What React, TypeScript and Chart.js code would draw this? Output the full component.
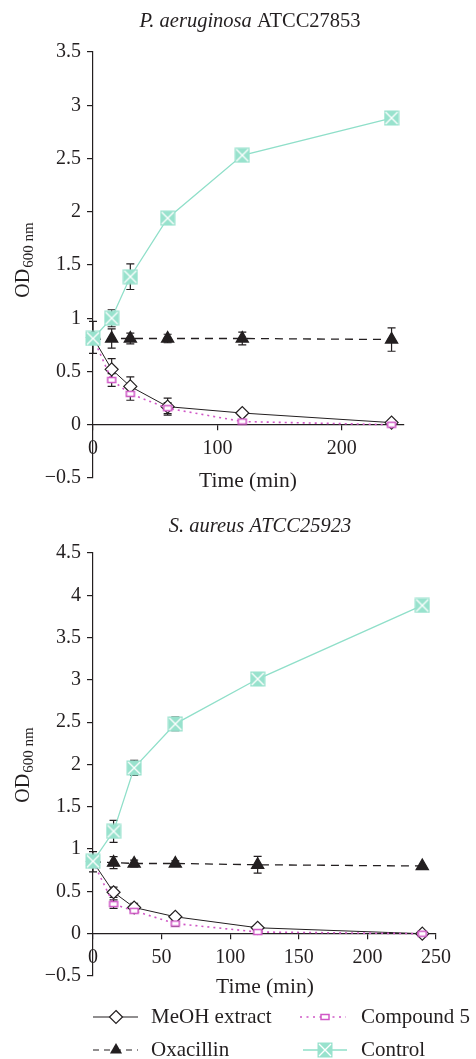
import React, { useEffect, useRef } from 'react';
import { Chart, registerables } from 'chart.js';

Chart.register(...registerables);

// ---------- data ----------
const times = [0, 15, 30, 60, 120, 240];

const paMeOH = [0.82, 0.52, 0.36, 0.17, 0.11, 0.02];
const paMeOHErr = [0.15, 0.1, 0.09, 0.08, 0, 0];
const paCompound = [0.82, 0.42, 0.29, 0.155, 0.03, 0.0];
const paCompoundErr = [0, 0.06, 0.06, 0.05, 0, 0];
const paOxacillin = [0.8, 0.81, 0.81, 0.81, 0.81, 0.8];
const paOxacillinErr = [0, 0.09, 0.05, 0.04, 0.06, 0.11];
const paControl = [0.81, 1.0, 1.39, 1.94, 2.53, 2.88];
const paControlErr = [0, 0.08, 0.12, 0, 0, 0];

const saMeOH = [0.85, 0.49, 0.31, 0.2, 0.07, 0.0];
const saMeOHErr = [0.12, 0.06, 0.05, 0.03, 0, 0];
const saCompound = [0.85, 0.35, 0.27, 0.12, 0.02, 0.0];
const saCompoundErr = [0, 0.05, 0, 0.03, 0, 0];
const saOxacillin = [0.85, 0.84, 0.83, 0.83, 0.815, 0.8];
const saOxacillinErr = [0, 0.07, 0.04, 0.03, 0.1, 0];
const saControl = [0.855, 1.21, 1.96, 2.48, 3.01, 3.88];
const saControlErr = [0, 0.13, 0.09, 0.08, 0, 0];

const paXTicks = [0, 100, 200];
const saXTicks = [0, 50, 100, 150, 200, 250];

const seriesNames = ['MeOH extract', 'Compound 5', 'Oxacillin', 'Control'];

// ---------- style ----------
const FONT = '"Liberation Serif", "DejaVu Serif", serif';
const INK = '#231f20';
const TEAL_FILL = '#98e2cd';
const TEAL_LINE = '#8fdfc9';
const MAGENTA = '#d057c6';

function drawControlMarker(ctx: CanvasRenderingContext2D, x: number, y: number, s = 15) {
  ctx.save();
  ctx.fillStyle = TEAL_FILL;
  ctx.fillRect(x - s / 2, y - s / 2, s, s);
  ctx.strokeStyle = '#ffffff';
  ctx.lineWidth = 1.4;
  const d = s / 2 - 1.5;
  ctx.beginPath();
  ctx.moveTo(x - d, y - d);
  ctx.lineTo(x + d, y + d);
  ctx.moveTo(x + d, y - d);
  ctx.lineTo(x - d, y + d);
  ctx.stroke();
  ctx.restore();
}

function drawCompoundMarker(ctx: CanvasRenderingContext2D, x: number, y: number) {
  ctx.save();
  ctx.fillStyle = '#ffffff';
  ctx.strokeStyle = MAGENTA;
  ctx.lineWidth = 1.5;
  ctx.fillRect(x - 4, y - 2.5, 8, 5);
  ctx.strokeRect(x - 4, y - 2.5, 8, 5);
  ctx.restore();
}

function drawDiamond(ctx: CanvasRenderingContext2D, x: number, y: number, r = 6.5) {
  ctx.save();
  ctx.fillStyle = '#ffffff';
  ctx.strokeStyle = INK;
  ctx.lineWidth = 1.2;
  ctx.beginPath();
  ctx.moveTo(x, y - r);
  ctx.lineTo(x + r, y);
  ctx.lineTo(x, y + r);
  ctx.lineTo(x - r, y);
  ctx.closePath();
  ctx.fill();
  ctx.stroke();
  ctx.restore();
}

function drawTriangle(ctx: CanvasRenderingContext2D, x: number, y: number, r = 7) {
  ctx.save();
  ctx.fillStyle = INK;
  ctx.beginPath();
  ctx.moveTo(x, y - r);
  ctx.lineTo(x + r * 0.866, y + r * 0.5);
  ctx.lineTo(x - r * 0.866, y + r * 0.5);
  ctx.closePath();
  ctx.fill();
  ctx.restore();
}

function makeImage(w: number, h: number, draw: (c: CanvasRenderingContext2D, x: number, y: number) => void) {
  const c = document.createElement('canvas');
  c.width = w;
  c.height = h;
  const cx = c.getContext('2d') as CanvasRenderingContext2D;
  draw(cx, w / 2, h / 2);
  return c;
}

type Seg = { text: string; italic: boolean };

function drawSegments(ctx: CanvasRenderingContext2D, segs: Seg[], cx: number, cy: number, size: number) {
  ctx.save();
  ctx.textBaseline = 'middle';
  ctx.textAlign = 'left';
  ctx.fillStyle = INK;
  let total = 0;
  const widths = segs.map((s) => {
    ctx.font = `${s.italic ? 'italic ' : ''}${size}px ${FONT}`;
    const w = ctx.measureText(s.text).width;
    total += w;
    return w;
  });
  let x = cx - total / 2;
  segs.forEach((s, i) => {
    ctx.font = `${s.italic ? 'italic ' : ''}${size}px ${FONT}`;
    ctx.fillText(s.text, x, cy);
    x += widths[i];
  });
  ctx.restore();
}

function drawYTitle(ctx: CanvasRenderingContext2D, cx: number, cy: number) {
  ctx.save();
  ctx.translate(cx, cy);
  ctx.rotate(-Math.PI / 2);
  ctx.fillStyle = INK;
  ctx.textBaseline = 'alphabetic';
  ctx.textAlign = 'left';
  ctx.font = `20px ${FONT}`;
  const w1 = ctx.measureText('OD').width;
  ctx.font = `15px ${FONT}`;
  const w2 = ctx.measureText('600 nm').width;
  const start = -(w1 + w2 + 1) / 2;
  ctx.font = `20px ${FONT}`;
  ctx.fillText('OD', start, 7);
  ctx.font = `15px ${FONT}`;
  ctx.fillText('600 nm', start + w1 + 1, 11);
  ctx.restore();
}

function fmtY(v: number) {
  const s = String(Math.round(v * 10) / 10);
  return s.replace('-', '\u2212');
}

function buildChart(
  canvas: HTMLCanvasElement,
  opts: {
    meoh: number[]; meohErr: number[];
    comp: number[]; compErr: number[];
    oxa: number[]; oxaErr: number[];
    ctrl: number[]; ctrlErr: number[];
    yMax: number; xTicks: number[];
    padding: { top: number; right: number; bottom: number; left: number };
    drawText: (ctx: CanvasRenderingContext2D) => void;
    imgs: { ctrl: HTMLCanvasElement; comp: HTMLCanvasElement };
  }
) {
  const toXY = (arr: number[]) => arr.map((v, i) => ({ x: times[i], y: v }));

  const errorBarPlugin = {
    id: 'errorBars',
    beforeDatasetsDraw(chart: any) {
      const ctx = chart.ctx as CanvasRenderingContext2D;
      const xs = chart.scales.x;
      const ys = chart.scales.y;
      ctx.save();
      ctx.strokeStyle = INK;
      ctx.lineWidth = 1.2;
      chart.data.datasets.forEach((ds: any) => {
        const errs: number[] = ds.errors;
        if (!errs) return;
        ds.data.forEach((p: any, i: number) => {
          const e = errs[i];
          if (!e) return;
          const px = xs.getPixelForValue(p.x);
          const y1 = ys.getPixelForValue(p.y + e);
          const y2 = ys.getPixelForValue(p.y - e);
          ctx.beginPath();
          ctx.moveTo(px, y1);
          ctx.lineTo(px, y2);
          ctx.moveTo(px - 4, y1);
          ctx.lineTo(px + 4, y1);
          ctx.moveTo(px - 4, y2);
          ctx.lineTo(px + 4, y2);
          ctx.stroke();
        });
      });
      ctx.restore();
    },
  };

  const textPlugin = {
    id: 'textPlugin',
    afterDraw(chart: any) {
      opts.drawText(chart.ctx);
    },
  };

  const tickFont = { family: FONT, size: 20 };

  return new Chart(canvas, {
    type: 'line',
    data: {
      datasets: [
        {
          label: seriesNames[3],
          data: toXY(opts.ctrl),
          errors: opts.ctrlErr,
          borderColor: TEAL_LINE,
          borderWidth: 1.3,
          pointStyle: opts.imgs.ctrl,
          pointRadius: 8,
          order: 0,
          clip: false,
        } as any,
        {
          label: seriesNames[2],
          data: toXY(opts.oxa),
          errors: opts.oxaErr,
          borderColor: INK,
          borderWidth: 1.3,
          borderDash: [8, 6],
          pointStyle: 'triangle',
          pointRadius: 7,
          pointBackgroundColor: INK,
          pointBorderColor: INK,
          order: 1,
          clip: false,
        } as any,
        {
          label: seriesNames[1],
          data: toXY(opts.comp),
          errors: opts.compErr,
          borderColor: MAGENTA,
          borderWidth: 1.6,
          borderDash: [2, 4],
          pointStyle: opts.imgs.comp,
          pointRadius: 5,
          order: 2,
          clip: false,
        } as any,
        {
          label: seriesNames[0],
          data: toXY(opts.meoh),
          errors: opts.meohErr,
          borderColor: INK,
          borderWidth: 1,
          pointStyle: 'rectRot',
          pointRadius: 6.5,
          pointBackgroundColor: '#ffffff',
          pointBorderColor: INK,
          pointBorderWidth: 1.2,
          order: 3,
          clip: false,
        } as any,
      ],
    },
    options: {
      responsive: false,
      animation: false,
      events: [],
      layout: { padding: opts.padding },
      elements: { line: { tension: 0 } },
      plugins: {
        legend: { display: false },
        tooltip: { enabled: false },
        title: { display: false },
      },
      scales: {
        x: {
          type: 'linear',
          min: 0,
          max: 250,
          position: { y: 0 } as any,
          afterBuildTicks: (s: any) => {
            s.ticks = opts.xTicks.map((v) => ({ value: v }));
          },
          afterFit: (s: any) => {
            s.height = 0;
          },
          ticks: {
            font: tickFont,
            color: INK,
            padding: 7,
            maxRotation: 0,
            autoSkip: false,
          },
          grid: { drawOnChartArea: false, tickLength: 5, color: INK, lineWidth: 1.2 },
          border: { color: INK, width: 1.2 },
        },
        y: {
          min: -0.5,
          max: opts.yMax,
          afterFit: (s: any) => {
            s.width = 93 - opts.padding.left;
          },
          ticks: {
            stepSize: 0.5,
            font: tickFont,
            color: INK,
            padding: 6,
            callback: (v: any) => fmtY(Number(v)),
          },
          grid: { drawOnChartArea: false, tickLength: 6, color: INK, lineWidth: 1.2 },
          border: { color: INK, width: 1.2 },
        },
      },
    } as any,
    plugins: [errorBarPlugin, textPlugin],
  });
}

export default function App() {
  const topRef = useRef<HTMLCanvasElement | null>(null);
  const botRef = useRef<HTMLCanvasElement | null>(null);

  useEffect(() => {
    const ctrlImg = makeImage(16, 16, (c, x, y) => drawControlMarker(c, x, y, 15));
    const compImg = makeImage(12, 8, (c, x, y) => drawCompoundMarker(c, x, y));
    const imgs = { ctrl: ctrlImg, comp: compImg };

    const top = buildChart(topRef.current as HTMLCanvasElement, {
      meoh: paMeOH, meohErr: paMeOHErr,
      comp: paCompound, compErr: paCompoundErr,
      oxa: paOxacillin, oxaErr: paOxacillinErr,
      ctrl: paControl, ctrlErr: paControlErr,
      yMax: 3.5,
      xTicks: paXTicks,
      padding: { top: 52, right: 72, bottom: 22, left: 0 },
      imgs,
      drawText: (ctx) => {
        drawSegments(ctx, [
          { text: 'P. aeruginosa', italic: true },
          { text: ' ATCC27853', italic: false },
        ], 250, 22, 20.5);
        drawYTitle(ctx, 22, 260);
        drawSegments(ctx, [{ text: 'Time (min)', italic: false }], 248, 481, 21.5);
      },
    });

    const bot = buildChart(botRef.current as HTMLCanvasElement, {
      meoh: saMeOH, meohErr: saMeOHErr,
      comp: saCompound, compErr: saCompoundErr,
      oxa: saOxacillin, oxaErr: saOxacillinErr,
      ctrl: saControl, ctrlErr: saControlErr,
      yMax: 4.5,
      xTicks: saXTicks,
      padding: { top: 53, right: 40, bottom: 83, left: 0 },
      imgs,
      drawText: (ctx) => {
        drawSegments(ctx, [{ text: 'S. aureus ATCC25923', italic: true }], 260, 27, 20.5);
        drawYTitle(ctx, 22, 265);
        drawSegments(ctx, [{ text: 'Time (min)', italic: false }], 265, 487, 21.5);
        // legend
        ctx.save();
        const r1 = 517;
        const r2 = 550;
        ctx.lineWidth = 1.2;
        ctx.strokeStyle = INK;
        ctx.beginPath();
        ctx.moveTo(93, r1);
        ctx.lineTo(138, r1);
        ctx.stroke();
        drawDiamond(ctx, 116, r1);
        ctx.setLineDash([6, 5]);
        ctx.beginPath();
        ctx.moveTo(93, r2);
        ctx.lineTo(138, r2);
        ctx.stroke();
        ctx.setLineDash([]);
        drawTriangle(ctx, 116, r2);
        ctx.strokeStyle = MAGENTA;
        ctx.lineWidth = 1.6;
        ctx.setLineDash([2, 4.5]);
        ctx.beginPath();
        ctx.moveTo(300, r1);
        ctx.lineTo(346, r1);
        ctx.stroke();
        ctx.setLineDash([]);
        drawCompoundMarker(ctx, 325, r1);
        ctx.strokeStyle = TEAL_LINE;
        ctx.lineWidth = 1.3;
        ctx.beginPath();
        ctx.moveTo(303, r2);
        ctx.lineTo(347, r2);
        ctx.stroke();
        drawControlMarker(ctx, 325, r2, 15);
        ctx.fillStyle = INK;
        ctx.font = `21px ${FONT}`;
        ctx.textBaseline = 'middle';
        ctx.textAlign = 'left';
        ctx.fillText(seriesNames[0], 151, r1);
        ctx.fillText(seriesNames[1], 361, r1);
        ctx.fillText(seriesNames[2], 151, r2);
        ctx.fillText(seriesNames[3], 361, r2);
        ctx.restore();
      },
    });

    return () => {
      top.destroy();
      bot.destroy();
    };
  }, []);

  return (
    <div style={{ position: 'absolute', left: 0, top: 0, width: 476, height: 1059, background: '#fff' }}>
      <canvas
        ref={topRef}
        width={476}
        height={500}
        style={{ position: 'absolute', left: 0, top: 0, width: 476, height: 500, display: 'block' }}
      />
      <canvas
        ref={botRef}
        width={476}
        height={559}
        style={{ position: 'absolute', left: 0, top: 500, width: 476, height: 559, display: 'block' }}
      />
    </div>
  );
}
